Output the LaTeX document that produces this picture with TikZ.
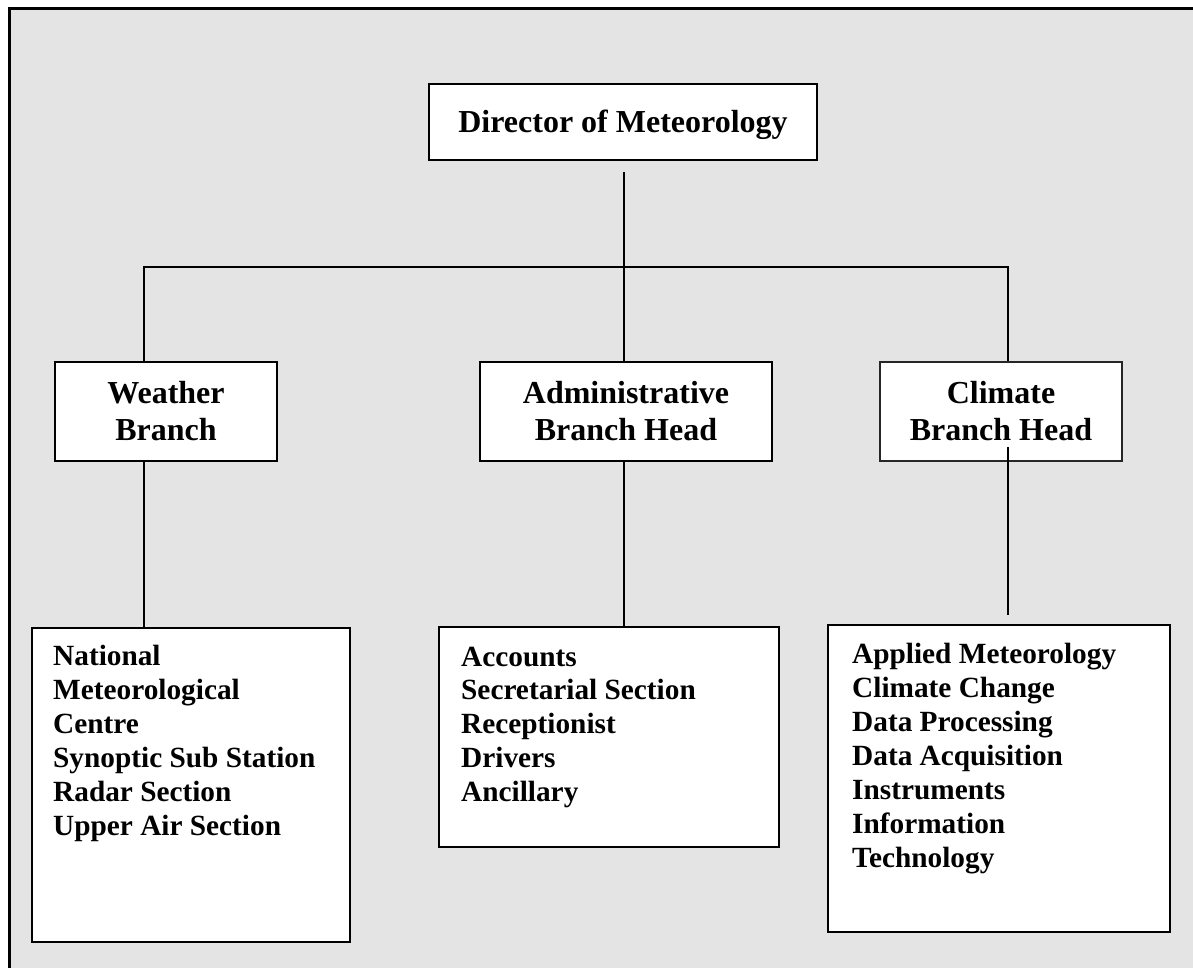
\documentclass[tikz,border=0pt]{standalone}
\usepackage{fontspec}
\setmainfont{Liberation Serif}
\definecolor{bggray}{HTML}{E4E4E4}
\tikzset{
  box/.style={draw=black, line width=1.8pt, fill=white, rectangle, inner sep=0pt},
  thinbox/.style={draw=black!85, line width=1.1pt, fill=white, rectangle, inner sep=0pt},
  lbl/.style={inner sep=0pt, font=\fontsize{32}{37}\selectfont\bfseries, anchor=base},
  item/.style={inner sep=0pt, font=\fontsize{29.3}{34}\selectfont\bfseries, anchor=base west},
  conn/.style={draw=black, line width=1.5pt}
}
\begin{document}
\begin{tikzpicture}[x=1pt,y=-1pt]
\clip (0,0) rectangle (1193,968);
\fill[white] (0,0) rectangle (1193,968);
\draw[line width=3pt, fill=bggray] (9.5,8.5) rectangle (1220,1000);

% boxes
\node[box, minimum width=388pt, minimum height=76pt] (dir) at (623,122) {};
\node[box, minimum width=222pt, minimum height=99pt] (wb) at (166,411.5) {};
\node[box, minimum width=292pt, minimum height=99pt] (ab) at (626,411.5) {};
\node[thinbox, minimum width=242pt, minimum height=99pt] (cb) at (1001,411.5) {};
\node[box, minimum width=318pt, minimum height=314pt] (wl) at (191,785) {};
\node[box, minimum width=340pt, minimum height=220pt] (al) at (609,737) {};
\node[box, minimum width=342pt, minimum height=307pt] (cl) at (999,778.5) {};

% connectors
\coordinate (j0) at (624,172);
\coordinate (hL) at (144,267);
\coordinate (hR) at (1008,267);
\coordinate (c1) at (1008,447);
\coordinate (c2) at (1008,615);
\draw[conn] (j0) -- (j0 |- ab.north);
\draw[conn] (hL |- wb.north) -- (hL) -- (hR) -- (hR |- cb.north);
\draw[conn] (hL |- wb.south) -- (hL |- wl.north);
\draw[conn] (j0 |- ab.south) -- (j0 |- al.north);

% texts
\node[lbl] (tdir) at (623,133) {Director of Meteorology};
\node[lbl] (tw1) at (166,403) {Weather};
\node[lbl] (tw2) at (166,440) {Branch};
\node[lbl] (ta1) at (626,403) {Administrative};
\node[lbl] (ta2) at (626,440) {Branch Head};
\node[lbl] (tc1) at (1001,403) {Climate};
\node[lbl] (tc2) at (1001,440) {Branch Head};
\draw[conn] (c1) -- (c2);

\foreach \t [count=\i] in {National, Meteorological, Centre, Synoptic Sub Station, Radar Section, Upper Air Section}
  \node[item] (w\i) at (53,{665+34*(\i-1)}) {\t};
\foreach \t [count=\i] in {Accounts, Secretarial Section, Receptionist, Drivers, Ancillary}
  \node[item] (a\i) at (461,{666+33.8*(\i-1)}) {\t};
\foreach \t [count=\i] in {Applied Meteorology, Climate Change, Data Processing, Data Acquisition, Instruments, Information, Technology}
  \node[item] (c\i) at (852,{663+34*(\i-1)}) {\t};
\end{tikzpicture}
\end{document}
